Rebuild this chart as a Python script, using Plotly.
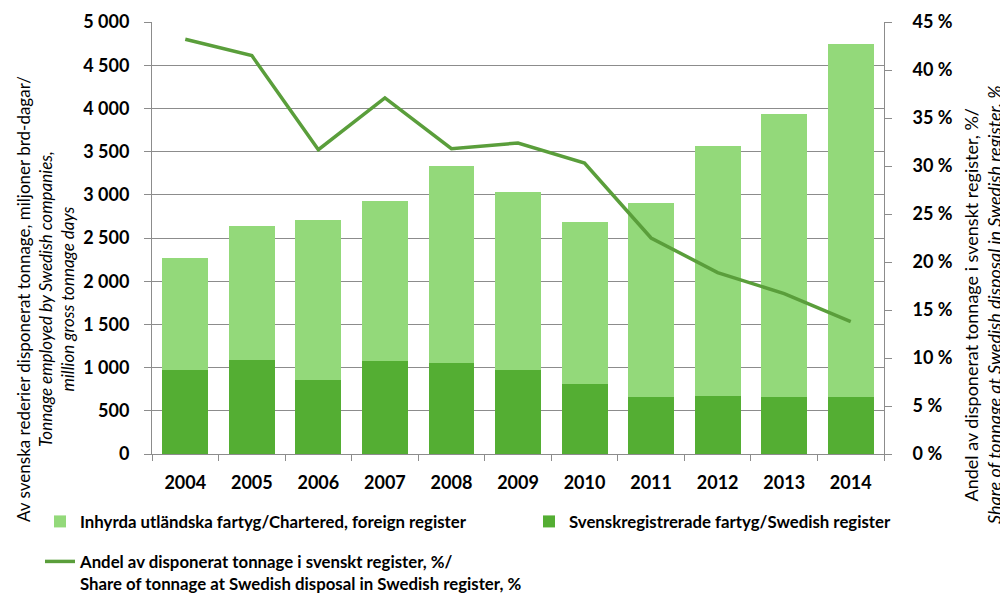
import plotly.graph_objects as go

years = ["2004", "2005", "2006", "2007", "2008", "2009", "2010", "2011", "2012", "2013", "2014"]
total = [2269, 2635, 2705, 2928, 3329, 3032, 2681, 2908, 3560, 3937, 4750]
swedish = [978, 1090, 851, 1082, 1059, 978, 809, 654, 670, 654, 654]
chartered = [t - s for t, s in zip(total, swedish)]
share_pct = [43.2, 41.5, 31.7, 37.1, 31.8, 32.4, 30.3, 22.5, 18.9, 16.7, 13.8]

name_chartered = "Inhyrda utländska fartyg/Chartered, foreign register"
name_swedish = "Svenskregistrerade fartyg/Swedish register"
name_share = "Andel av disponerat tonnage i svenskt register, %/<br>Share of tonnage at Swedish disposal in Swedish register, %"

LIGHT = "#93D97A"
DARK = "#54AE33"
LINE = "#5A9E3B"
GRID = "#8C8C8C"
FONT = "Lato"

# the page body adds an 8px margin; work in screen px and subtract it
OFF = 8
SW, SH = 1008, 593
W, H = SW - OFF, SH - OFF
L, R, T, B = 152 - OFF, 884 - OFF, 22 - OFF, 454 - OFF
def px_x(px):
    return (px - OFF - L) / (R - L)
def px_y(py):
    return (B - (py - OFF)) / (B - T)

fig = go.Figure()
fig.add_trace(go.Bar(x=years, y=swedish, name=name_swedish, marker_color=DARK,
                     marker_line_width=0, legend="legend2"))
fig.add_trace(go.Bar(x=years, y=chartered, name=name_chartered, marker_color=LIGHT,
                     marker_line_width=0, legend="legend"))
fig.add_trace(go.Scatter(x=years, y=share_pct, name=name_share, mode="lines",
                         line=dict(color=LINE, width=3.5), yaxis="y2", legend="legend3"))

legfont = dict(family=FONT, size=16.8, color="black", weight="bold")
tickfont = dict(family=FONT, size=18, weight="bold", color="black")
fig.update_layout(
    width=W, height=H,
    margin=dict(l=L, r=W - R, t=T, b=H - B, autoexpand=False),
    barmode="stack", bargap=0.31,
    paper_bgcolor="white", plot_bgcolor="white",
    separators=", ",
    font=dict(family=FONT, color="black"),
    xaxis=dict(type="category", tickson="boundaries", ticks="outside", ticklen=6,
               tickcolor=GRID, showline=True, linecolor=GRID, linewidth=1,
               tickfont=tickfont, showgrid=False, ticklabelstandoff=12),
    yaxis=dict(range=[0, 5000], dtick=500, tickformat=",d", ticks="outside", ticklen=7,
               tickcolor=GRID, showline=True, linecolor=GRID, linewidth=1,
               gridcolor=GRID, gridwidth=1, zeroline=False, ticklabelstandoff=11,
               tickfont=tickfont),
    yaxis2=dict(range=[0, 45], dtick=5, ticksuffix=" %", overlaying="y", side="right",
                ticks="outside", ticklen=7, tickcolor=GRID, showline=True, linecolor=GRID,
                linewidth=1, showgrid=False, zeroline=False, ticklabelstandoff=17,
                tickfont=tickfont),
    showlegend=True,
    legend=dict(x=px_x(40), y=px_y(504), xanchor="left", yanchor="top", orientation="h",
                font=legfont, bgcolor="rgba(0,0,0,0)", itemclick=False),
    legend2=dict(x=px_x(529), y=px_y(504), xanchor="left", yanchor="top", orientation="h",
                 font=legfont, bgcolor="rgba(0,0,0,0)", itemclick=False),
    legend3=dict(x=px_x(40), y=px_y(544), xanchor="left", yanchor="top", orientation="h",
                 font=legfont, bgcolor="rgba(0,0,0,0)", valign="top", itemclick=False),
)

# axis titles
fig.add_annotation(xref="paper", yref="paper", x=px_x(45), y=px_y(299), textangle=-90,
                   showarrow=False, xanchor="center", yanchor="middle",
                   text="Av svenska rederier disponerat tonnage, miljoner brd-dagar/<br>"
                        "<i>Tonnage employed by Swedish companies,</i><br>"
                        "<i>million gross tonnage days</i>",
                   font=dict(family=FONT, size=17, color="black"))
fig.add_annotation(xref="paper", yref="paper", x=px_x(982), y=px_y(305), textangle=-90,
                   showarrow=False, xanchor="center", yanchor="middle",
                   text="Andel av disponerat tonnage i svenskt register, %/<br>"
                        "<i>Share of tonnage at Swedish disposal in Swedish register, %</i>",
                   font=dict(family=FONT, size=18, color="black"))

fig.write_html("out.html")
